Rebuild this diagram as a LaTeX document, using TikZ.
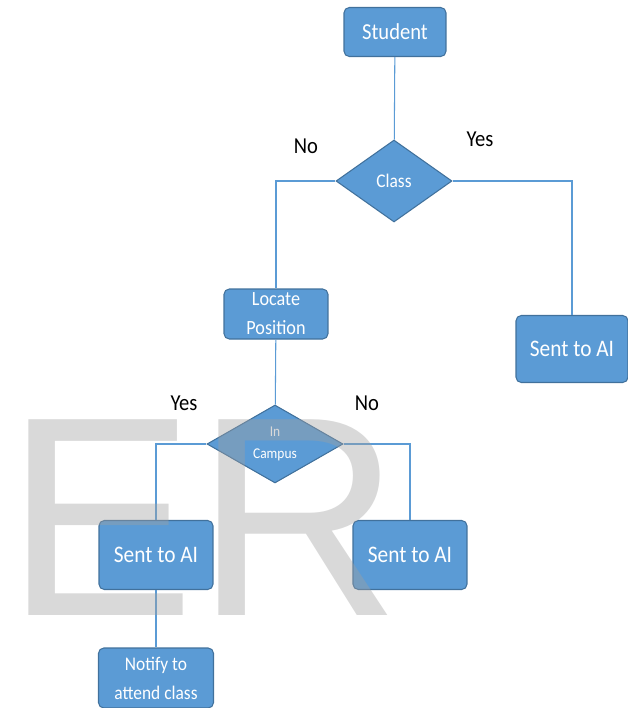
\documentclass[tikz,border=0pt]{standalone}
\usepackage{fontspec}
\setmainfont[FakeStretch=0.9]{Carlito}
\newfontfamily\markfont{Liberation Sans}
\usetikzlibrary{positioning,shapes.geometric}
\definecolor{FlowBlue}{HTML}{5B9BD5}
\definecolor{FlowEdge}{HTML}{41719C}
\definecolor{FlowLine}{HTML}{5B9BD5}
\definecolor{MarkGray}{HTML}{A0A0A0}
\tikzset{
  link/.style={draw=FlowLine, line width=0.6pt},
  box/.style={rectangle, rounded corners=3pt, draw=FlowEdge, fill=FlowBlue, text=white,
              line width=0.6pt, align=center, inner sep=2pt},
  decide/.style={diamond, draw=FlowEdge, fill=FlowBlue, text=white, line width=0.6pt,
                 align=center, inner sep=0pt},
  answer/.style={text=black, font=\fontsize{13}{15}\selectfont},
}

\begin{document}
\begin{tikzpicture}[x=0.02cm, y=-0.02cm]
  \useasboundingbox (0,0) rectangle (628,708);
  % top of the chart
  \node[box, minimum width=2.04cm, minimum height=0.98cm, font=\fontsize{13}{15}\selectfont]
    (student) at (395,32) {Student};
  \node[decide, minimum width=2.32cm, minimum height=1.64cm, font=\fontsize{11}{13}\selectfont]
    (class) at (394,181) {Class};
  \node[box, minimum width=2.08cm, minimum height=1.0cm, font=\fontsize{11.5}{16.5}\selectfont]
    (locate) at (276,314) {Locate\\Position};
  \node[box, minimum width=2.24cm, minimum height=1.34cm, font=\fontsize{13.5}{15}\selectfont]
    (aiclass) at (572,349) {Sent to AI};
  % campus check
  \node[decide, minimum width=2.72cm, minimum height=1.56cm, font=\fontsize{8.5}{12.5}\selectfont]
    (campus) at (275,444) {In\\Campus};
  \node[box, minimum width=2.28cm, minimum height=1.38cm, font=\fontsize{13.5}{15}\selectfont]
    (aiin) at (156,555) {Sent to AI};
  \node[box, minimum width=2.28cm, minimum height=1.38cm, font=\fontsize{13.5}{15}\selectfont]
    (aiout) at (410,555) {Sent to AI};
  \node[box, minimum width=2.3cm, minimum height=1.2cm, font=\fontsize{11}{16.5}\selectfont]
    (notify) at (156,678) {Notify to\\attend class};
  % answers
  \node[answer] (classno) at (306,146) {No};
  \node[answer] (classyes) at (480,139) {Yes};
  \node[answer] (campusyes) at (184,403) {Yes};
  \node[answer] (campusno) at (367,403) {No};
  % connectors
  \draw[link] (student) -- (class);
  \draw[link] (class.west) -| (locate.north);
  \draw[link] (class.east) -| (aiclass.north);
  \draw[link] (locate) -- (campus);
  \draw[link] (campus.west) -| (aiin.north);
  \draw[link] (campus.east) -| (aiout.north);
  \draw[link] (aiin) -- (notify);
  % watermark
  \node[text=MarkGray, opacity=0.4, inner sep=0pt, font=\markfont\fontsize{162}{162}\selectfont]
    (mark) at (203,518) {ER};
\end{tikzpicture}
\end{document}
